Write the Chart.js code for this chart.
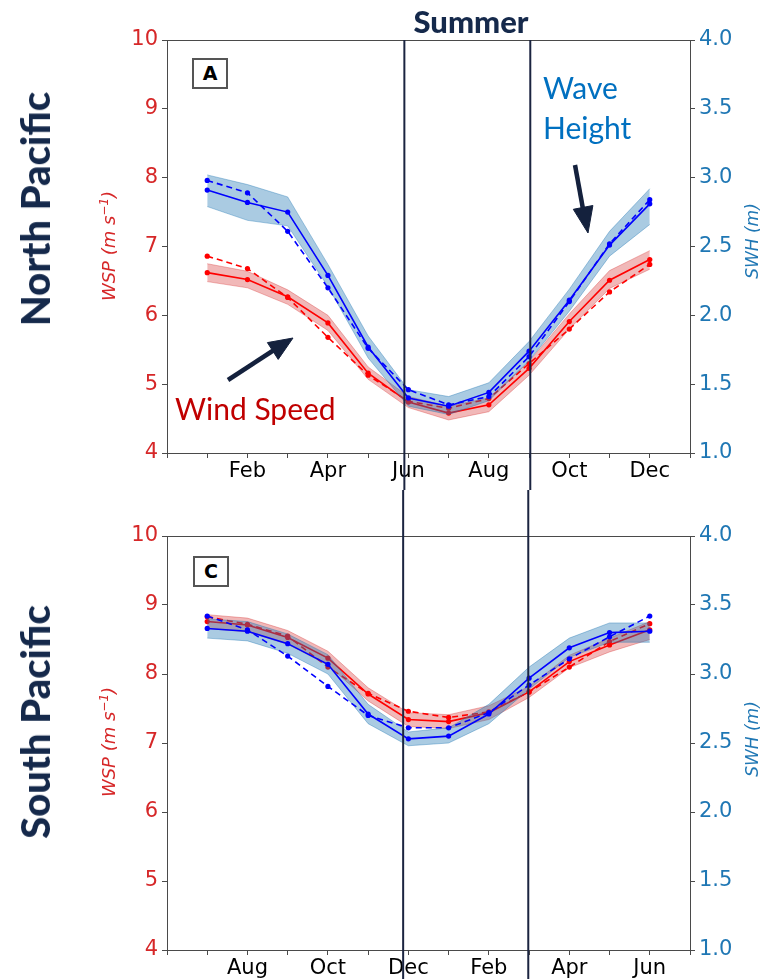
<!DOCTYPE html>
<html>
<head>
<meta charset="utf-8">
<script src="https://cdn.jsdelivr.net/npm/chart.js@4.4.1/dist/chart.umd.min.js"></script>
<style>
  html, body { margin: 0; padding: 0; background: #fff; }
  #page { position: relative; width: 768px; height: 979px; overflow: hidden; background: #fff; }
  #page canvas { position: absolute; left: 0; }
  .txt { position: absolute; white-space: nowrap; line-height: 1; }
  .rot { transform: translate(-50%, -50%) rotate(-90deg); }
  .region { font-family: Lato, "Open Sans", sans-serif; font-weight: 900; font-size: 40px; color: #15294b; }
  .wsp { font-family: "DejaVu Sans", sans-serif; font-style: italic; font-size: 18px; color: #d62728; }
  .swh { font-family: "DejaVu Sans", sans-serif; font-style: italic; font-size: 17px; color: #1f77b4; }
  .wsp sup, .swh sup { font-size: 12px; vertical-align: 7px; line-height: 0; }
  .panel { position: absolute; width: 32px; height: 27px; border: 2px solid #555; background: #fff;
           font-family: "DejaVu Sans", sans-serif; font-weight: bold; font-size: 19px; text-align: center; line-height: 27px; color: #000; }
  .note { font-family: Lato, "Open Sans", sans-serif; font-size: 30px; }
  #arrows { position: absolute; left: 0; top: 0; pointer-events: none; }
</style>
</head>
<body>
<div id="page">
  <canvas id="north" width="768" height="490" style="top:0;width:768px;height:490px"></canvas>
  <canvas id="south" width="768" height="489" style="top:490px;width:768px;height:489px"></canvas>

  <div class="txt" style="left:471px;top:21px;transform:translate(-50%,-50%);font-family:Lato,'Open Sans',sans-serif;font-weight:900;font-size:31px;color:#15294b;">Summer</div>

  <div class="txt rot region" style="left:35px;top:209px;">North Pacific</div>
  <div class="txt rot region" style="left:35px;top:722px;">South Pacific</div>

  <div class="txt rot wsp" style="left:109px;top:246px;">WSP (m s<sup>−1</sup>)</div>
  <div class="txt rot wsp" style="left:109px;top:742px;">WSP (m s<sup>−1</sup>)</div>
  <div class="txt rot swh" style="left:752px;top:241px;">SWH (m)</div>
  <div class="txt rot swh" style="left:752px;top:739px;">SWH (m)</div>

  <div class="panel" style="left:192px;top:58px;">A</div>
  <div class="panel" style="left:193px;top:556px;">C</div>

  <div class="txt note" style="left:175px;top:393px;color:#c00000;">Wind Speed</div>
  <div class="txt note" style="left:543px;top:72px;color:#0070c0;">Wave</div>
  <div class="txt note" style="left:543px;top:112px;color:#0070c0;">Height</div>

  <svg id="arrows" width="768" height="979" viewBox="0 0 768 979">
    <g fill="#14213d" stroke="#14213d">
      <line x1="228" y1="380" x2="274" y2="350" stroke-width="4.5"/>
      <polygon points="293,338 278.2,359.4 267.4,342.6" stroke-width="1"/>
      <line x1="575" y1="165" x2="583" y2="209" stroke-width="4.5"/>
      <polygon points="588,233 592.9,205.5 573.3,209.3" stroke-width="1"/>
    </g>
  </svg>
</div>

<script>
// Monthly climatology, North Pacific (Jan..Dec)
const northMonths = ["Jan", "Feb", "Mar", "Apr", "May", "Jun", "Jul", "Aug", "Sep", "Oct", "Nov", "Dec"];
const northWspMean   = [6.62, 6.52, 6.27, 5.89, 5.16, 4.74, 4.58, 4.70, 5.23, 5.91, 6.51, 6.81];
const northWspAlt    = [6.86, 6.68, 6.26, 5.68, 5.13, 4.75, 4.65, 4.79, 5.30, 5.80, 6.34, 6.74];
const northWspHigh   = [6.75, 6.64, 6.37, 6.00, 5.25, 4.82, 4.68, 4.80, 5.33, 6.02, 6.65, 6.94];
const northWspLow    = [6.49, 6.40, 6.16, 5.78, 5.07, 4.66, 4.48, 4.60, 5.13, 5.80, 6.39, 6.67];
const northSwhMean   = [2.91, 2.82, 2.75, 2.29, 1.77, 1.40, 1.34, 1.44, 1.74, 2.11, 2.51, 2.81];
const northSwhAlt    = [2.98, 2.89, 2.61, 2.20, 1.76, 1.46, 1.35, 1.41, 1.70, 2.10, 2.52, 2.84];
const northSwhHigh   = [3.02, 2.95, 2.86, 2.37, 1.85, 1.46, 1.41, 1.51, 1.81, 2.19, 2.61, 2.92];
const northSwhLow    = [2.79, 2.69, 2.65, 2.21, 1.69, 1.34, 1.28, 1.38, 1.67, 2.03, 2.43, 2.66];

// Monthly climatology, South Pacific (Jul..Jun)
const southMonths = ["Jul", "Aug", "Sep", "Oct", "Nov", "Dec", "Jan", "Feb", "Mar", "Apr", "May", "Jun"];
const southWspMean   = [8.76, 8.71, 8.53, 8.23, 7.71, 7.34, 7.31, 7.44, 7.74, 8.18, 8.42, 8.64];
const southWspAlt    = [8.83, 8.72, 8.55, 8.10, 7.72, 7.46, 7.37, 7.45, 7.74, 8.10, 8.47, 8.73];
const southWspHigh   = [8.86, 8.81, 8.63, 8.33, 7.80, 7.44, 7.41, 7.54, 7.82, 8.27, 8.52, 8.76];
const southWspLow    = [8.66, 8.61, 8.43, 8.13, 7.61, 7.24, 7.21, 7.34, 7.66, 8.09, 8.32, 8.50];
const southSwhMean   = [3.33, 3.31, 3.22, 3.07, 2.71, 2.53, 2.55, 2.71, 2.97, 3.19, 3.30, 3.31];
const southSwhAlt    = [3.42, 3.32, 3.13, 2.91, 2.70, 2.61, 2.61, 2.72, 2.92, 3.11, 3.27, 3.42];
const southSwhHigh   = [3.40, 3.38, 3.29, 3.14, 2.78, 2.58, 2.61, 2.78, 3.05, 3.26, 3.37, 3.37];
const southSwhLow    = [3.26, 3.24, 3.15, 3.00, 2.64, 2.48, 2.50, 2.64, 2.89, 3.12, 3.23, 3.23];

// Summer season boundaries, in month positions along the x axis
const northSummer = [5.90, 9.03];
const southSummer = [5.87, 8.98];

// Axis ranges
const wspRange = [4, 10];
const swhRange = [1.0, 4.0];

const RED = "#ff0000", BLUE = "#0000ff";
const RED_BAND = "rgba(214, 39, 40, 0.33)", BLUE_BAND = "rgba(31, 119, 180, 0.38)";
const SPINE = "#4a4a4a", SUMMER_LINE = "#1b2440";

const pts = arr => arr.map((v, i) => ({ x: i + 1, y: v }));

function lineSet(values, color, axis, dashed) {
  return {
    data: pts(values), yAxisID: axis, borderColor: color, backgroundColor: color,
    borderWidth: 1.6, borderDash: dashed ? [6, 4] : [], pointRadius: 2.6, pointHoverRadius: 2.6,
    pointBackgroundColor: color, pointBorderWidth: 0, fill: false, tension: 0
  };
}
function bandSet(values, color, axis, fillTarget) {
  return {
    data: pts(values), yAxisID: axis, borderColor: color, backgroundColor: color,
    borderWidth: 1, pointRadius: 0, fill: fillTarget, tension: 0
  };
}

function frameAndSummer(bounds, fromPlotTop) {
  return {
    id: "frameAndSummer",
    afterDraw(chart) {
      const { ctx, chartArea: a, scales } = chart;
      ctx.save();
      ctx.strokeStyle = SPINE;
      ctx.lineWidth = 1;
      ctx.strokeRect(a.left + 0.5, a.top + 0.5, a.right - a.left, a.bottom - a.top);
      ctx.strokeStyle = SUMMER_LINE;
      ctx.lineWidth = 2;
      bounds.forEach(v => {
        const x = scales.x.getPixelForValue(v);
        ctx.beginPath();
        ctx.moveTo(x, fromPlotTop ? a.top : 0);
        ctx.lineTo(x, chart.height);
        ctx.stroke();
      });
      ctx.restore();
    }
  };
}

function makePanel(canvasId, months, wsp, swh, bounds, geom) {
  const tickFont = { family: "'DejaVu Sans', sans-serif", size: 21 };
  const zeroPad = s => { s.paddingTop = 0; s.paddingBottom = 0; s.paddingLeft = 0; s.paddingRight = 0; };
  return new Chart(document.getElementById(canvasId), {
    type: "line",
    data: {
      datasets: [
        lineSet(swh.mean, BLUE, "ySwh", false),
        lineSet(swh.alt, BLUE, "ySwh", true),
        bandSet(swh.high, BLUE_BAND, "ySwh", "+1"),
        bandSet(swh.low, BLUE_BAND, "ySwh", false),
        lineSet(wsp.mean, RED, "yWsp", false),
        lineSet(wsp.alt, RED, "yWsp", true),
        bandSet(wsp.high, RED_BAND, "yWsp", "+1"),
        bandSet(wsp.low, RED_BAND, "yWsp", false)
      ]
    },
    options: {
      responsive: false, animation: false, devicePixelRatio: 1,
      layout: { padding: { top: geom.top, left: 0, right: 0, bottom: 0 } },
      plugins: { legend: { display: false }, tooltip: { enabled: false } },
      scales: {
        x: {
          type: "linear", min: 0, max: 13,
          afterFit: s => { s.height = geom.xHeight; zeroPad(s); },
          ticks: {
            stepSize: 1, autoSkip: false, maxRotation: 0, padding: 1, color: "#000", font: tickFont,
            callback: v => (v >= 1 && v <= 12 && v % 2 === 0) ? months[v - 1] : ""
          },
          grid: { drawOnChartArea: false, drawTicks: true, tickLength: 5, color: SPINE },
          border: { color: SPINE }
        },
        yWsp: {
          position: "left", min: wspRange[0], max: wspRange[1],
          afterFit: s => { s.width = 167; zeroPad(s); },
          ticks: { stepSize: 1, padding: 4, color: "#d62728", font: tickFont },
          grid: { drawOnChartArea: false, drawTicks: true, tickLength: 5, color: SPINE },
          border: { color: SPINE }
        },
        ySwh: {
          position: "right", min: swhRange[0], max: swhRange[1],
          afterFit: s => { s.width = 78; zeroPad(s); },
          ticks: { stepSize: 0.5, padding: 4, color: "#1f77b4", font: tickFont, callback: v => v.toFixed(1) },
          grid: { drawOnChartArea: false, drawTicks: true, tickLength: 5, color: SPINE },
          border: { color: SPINE }
        }
      }
    },
    plugins: [frameAndSummer(bounds, geom.fromPlotTop)]
  });
}

makePanel("north", northMonths,
  { mean: northWspMean, alt: northWspAlt, high: northWspHigh, low: northWspLow },
  { mean: northSwhMean, alt: northSwhAlt, high: northSwhHigh, low: northSwhLow },
  northSummer, { top: 40, xHeight: 37, fromPlotTop: true });

makePanel("south", southMonths,
  { mean: southWspMean, alt: southWspAlt, high: southWspHigh, low: southWspLow },
  { mean: southSwhMean, alt: southSwhAlt, high: southSwhHigh, low: southSwhLow },
  southSummer, { top: 46, xHeight: 29, fromPlotTop: false });
</script>
</body>
</html>
